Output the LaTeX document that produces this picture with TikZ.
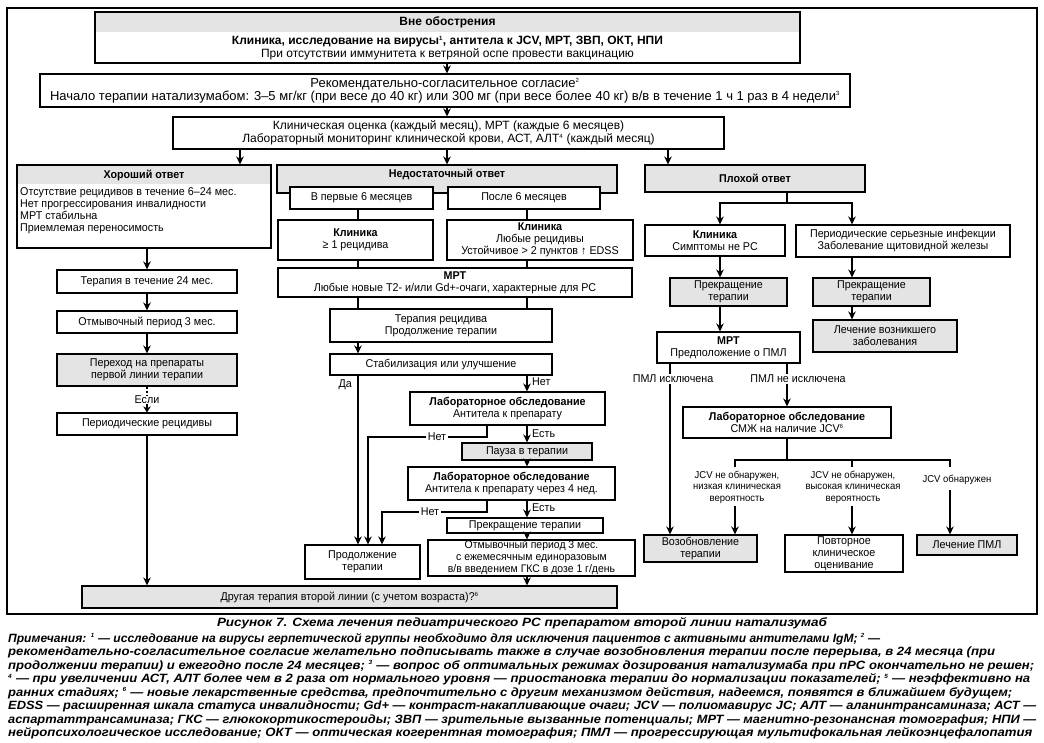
\documentclass[tikz,border=0pt]{standalone}
\usepackage{fontspec}
\usepackage{graphicx}
\setmainfont{Liberation Sans}
\newfontfamily\diagfont[FakeStretch=0.95]{Liberation Sans}
\usetikzlibrary{arrows.meta}
\definecolor{boxgray}{HTML}{E4E4E4}
\newcommand{\fs}{\diagfont\fontsize{11.3}{12}\selectfont}
\newcommand{\fst}{\fontsize{12}{13}\selectfont}
\newcommand{\fsw}{\fontsize{13}{13}\selectfont}
\newcommand{\fss}{\diagfont\fontsize{10}{11.5}\selectfont}
\newcommand{\notefont}{\fontsize{12}{13}\selectfont\bfseries\itshape}
\newcommand{\sps}[1]{\textsuperscript{\fontsize{6}{6}\selectfont #1}}
\newcommand{\fitw}[2]{\resizebox{#1pt}{\height}{#2}}
\newcommand{\bx}[7][box]{%
  \pgfmathsetmacro{\bxcx}{(#3+#5)/2}\pgfmathsetmacro{\bxcy}{(#4+#6)/2}%
  \pgfmathsetmacro{\bxw}{#5-#3}\pgfmathsetmacro{\bxh}{#6-#4}%
  \node[#1, minimum width=\bxw pt, minimum height=\bxh pt] (#2) at (\bxcx,\bxcy) {#7};}
\tikzset{
  box/.style={draw, line width=1.1pt, inner sep=0pt, align=center, font=\fs},
  gbox/.style={box, fill=boxgray},
  wbox/.style={box, fill=white},
  txt/.style={inner sep=0pt, align=center, font=\fs},
  conn/.style={line width=2.2pt},
  arr/.style={line width=2.2pt, -{Stealth[length=8pt,width=7.5pt]}},
  arrs/.style={line width=2.2pt, -{Stealth[length=6pt,width=7.5pt]}},
  lbl/.style={inner sep=1.5pt, fill=white, font=\fs},
  note/.style={inner sep=0pt, anchor=west, font=\notefont},
}
\begin{document}
\begin{tikzpicture}[x=1pt,y=-1pt]
\useasboundingbox (0,0) rectangle (1044,743);
\draw[line width=1.3pt] (7,8) rectangle (1037,614);
% guides
\coordinate (xM) at (447,0);
\coordinate (xG) at (240,0);
\coordinate (xP) at (668,0);
\coordinate (xL) at (147,0);
\coordinate (xA) at (358,0);
\coordinate (xB) at (527,0);
\coordinate (xN) at (487,0);
\coordinate (xR0) at (787,0);
\coordinate (xR1) at (720,0);
\coordinate (xR2) at (852,0);
\coordinate (xE) at (670,0);
% top
\fill[boxgray] (95,12) rectangle (800,32);
\bx{vne}{95}{12}{800}{63}{}
\node[txt, font=\fst] (vneH) at (447.5,22) {\bfseries Вне обострения};
\node[txt, font=\fst] (vneB) at (447.5,48) {\textbf{Клиника, исследование на вирусы\sps{1}, антитела к JCV, МРТ, ЗВП, ОКТ, НПИ}\\При отсутствии иммунитета к ветряной оспе провести вакцинацию};
\bx[box, font=\fsw]{rek}{40}{74}{850}{107}{Рекомендательно-согласительное согласие\sps{2}\\Начало терапии натализумабом: 3–5 мг/кг (при весе до 40 кг) или 300 мг (при весе более 40 кг) в/в в течение 1 ч 1 раз в 4 недели\sps{3}}
\bx[box, font=\fst]{klin}{173}{117}{724}{149}{Клиническая оценка (каждый месяц), МРТ (каждые 6 месяцев)\\Лабораторный мониторинг клинической крови, АСТ, АЛТ\sps{4} (каждый месяц)}
\draw[arr] (xM |- vne.south) -- (xM |- rek.north);
\draw[arr] (xM |- rek.south) -- (xM |- klin.north);
% left column
\fill[boxgray] (17,165) rectangle (271,184);
\bx{good}{17}{165}{271}{248}{}
\node[txt] (goodH) at (144,175) {\bfseries Хороший ответ};
\node[txt, align=left, anchor=west] (goodB) at (20,211) {Отсутствие рецидивов в течение 6–24 мес.\\Нет прогрессирования инвалидности\\МРТ стабильна\\Приемлемая переносимость};
\bx{ter24}{57}{270}{237}{293}{Терапия в течение 24 мес.}
\bx{otm3}{57}{311}{237}{333}{Отмывочный период 3 мес.}
\bx[gbox]{perehod}{57}{354}{237}{386}{Переход на препараты\\первой линии терапии}
\node[txt] (esli) at (147,400) {Если};
\bx{period}{57}{413}{237}{435}{Периодические рецидивы}
\bx[gbox]{drug}{82}{586}{617}{608}{Другая терапия второй линии (с учетом возраста)?\sps{6}}
\draw[arr] (xG |- klin.south) -- (xG |- good.north);
\draw[arr] (xL |- good.south) -- (xL |- ter24.north);
\draw[arr] (ter24.south) -- (otm3.north);
\draw[arr] (otm3.south) -- (perehod.north);
\draw[line width=2.2pt, dash pattern=on 2pt off 2pt] (perehod.south) -- (esli.north);
\draw[arrs] (esli.south) -- (period.north);
\draw[arr] (period.south) -- (period.south |- drug.north);
% middle column
\bx[gbox]{nedo}{277}{165}{617}{193}{}
\node[txt] (nedoH) at (447,174) {\bfseries Недостаточный ответ};
\draw[arr] (xM |- klin.south) -- (xM |- nedo.north);
\bx[wbox]{first6}{290}{187}{433}{209}{В первые 6 месяцев}
\bx[wbox]{after6}{448}{187}{600}{209}{После 6 месяцев}
\bx{klin1}{278}{220}{433}{260}{\textbf{Клиника}\\≥ 1 рецидива}
\bx{klin2}{447}{220}{633}{260}{\textbf{Клиника}\\Любые рецидивы\\Устойчивое > 2 пунктов ↑ EDSS}
\bx{mrt1}{278}{268}{632}{297}{\textbf{МРТ}\\Любые новые T2- и/или Gd+-очаги, характерные для РС}
\bx{terrec}{330}{309}{552}{342}{Терапия рецидива\\Продолжение терапии}
\bx{stab}{330}{354}{552}{375}{Стабилизация или улучшение}
\bx{lab1}{410}{392}{605}{425}{\textbf{Лабораторное обследование}\\Антитела к препарату}
\bx[gbox]{pauza}{462}{443}{592}{460}{Пауза в терапии}
\bx{lab2}{408}{467}{615}{500}{\textbf{Лабораторное обследование}\\Антитела к препарату через 4 нед.}
\bx{prekr}{447}{518}{603}{533}{Прекращение терапии}
\bx{otmgks}{428}{540}{635}{576}{\fontsize{11}{11}\selectfont Отмывочный период 3 мес.\\\fontsize{11}{11}\selectfont с ежемесячным единоразовым\\\fontsize{11}{11}\selectfont в/в введением ГКС в дозе 1 г/день}
\bx{prod}{305}{545}{420}{579}{Продолжение\\терапии}
\draw[conn] (xA |- first6.south) -- (xA |- klin1.north);
\draw[conn] (xA |- klin1.south) -- (xA |- mrt1.north);
\draw[conn] (xA |- mrt1.south) -- (xA |- terrec.north);
\draw[conn] (xB |- after6.south) -- (xB |- klin2.north);
\draw[conn] (xB |- klin2.south) -- (xB |- mrt1.north);
\draw[conn] (xB |- mrt1.south) -- (xB |- terrec.north);
\draw[arr] (xA |- terrec.south) -- (xA |- stab.north);
\draw[arr] (xA |- stab.south) -- (xA |- prod.north);
\node[txt, anchor=east] (da) at (352,385) {Да};
\draw[arr] (xB |- stab.south) -- (xB |- lab1.north);
\node[txt, anchor=west] (net1) at (532,382) {Нет};
\draw[arr] (xB |- lab1.south) -- (xB |- pauza.north);
\node[txt, anchor=west] (est1) at (532,434) {Есть};
\draw[arr] (xB |- pauza.south) -- (xB |- lab2.north);
\draw[arr] (xB |- lab2.south) -- (xB |- prekr.north);
\node[txt, anchor=west] (est2) at (532,508) {Есть};
\draw[arr] (xB |- prekr.south) -- (xB |- otmgks.north);
\draw[arr] (xB |- otmgks.south) -- (xB |- drug.north);
\coordinate (n1c) at (368,437);
\coordinate (n2c) at (382,512);
\draw[arr] (xN |- lab1.south) -- (xN |- n1c) -- (n1c) -- (n1c |- prod.north);
\draw[arr] (xN |- lab2.south) -- (xN |- n2c) -- (n2c) -- (n2c |- prod.north);
\node[lbl] (net2) at (437,437) {Нет};
\node[lbl] (net3) at (430,512) {Нет};
% right column
\bx[gbox]{bad}{645}{165}{865}{192}{\textbf{Плохой ответ}}
\draw[arr] (xP |- klin.south) -- (xP |- bad.north);
\coordinate (jb) at (787,203);
\bx{klin3}{645}{225}{785}{256}{\textbf{Клиника}\\Симптомы не РС}
\bx{inf}{796}{225}{1010}{257}{Периодические серьезные инфекции\\Заболевание щитовидной железы}
\draw[conn] (xR0 |- bad.south) -- (jb);
\draw[arr] (jb) -| (xR1 |- klin3.north);
\draw[arr] (jb) -| (xR2 |- inf.north);
\bx[gbox]{pr1}{670}{278}{787}{306}{Прекращение\\терапии}
\bx[gbox]{pr2}{813}{278}{930}{306}{Прекращение\\терапии}
\draw[arr] (xR1 |- klin3.south) -- (xR1 |- pr1.north);
\draw[arr] (xR2 |- inf.south) -- (xR2 |- pr2.north);
\bx{mrt2}{657}{332}{800}{363}{\textbf{МРТ}\\Предположение о ПМЛ}
\bx[gbox]{lech}{813}{320}{957}{352}{Лечение возникшего\\заболевания}
\draw[arr] (xR1 |- pr1.south) -- (xR1 |- mrt2.north);
\draw[arr] (xR2 |- pr2.south) -- (xR2 |- lech.north);
\bx{lab3}{683}{407}{891}{438}{\textbf{Лабораторное обследование}\\СМЖ на наличие JCV\sps{6}}
\bx[gbox]{vozob}{644}{535}{757}{562}{Возобновление\\терапии}
\bx{povt}{785}{535}{903}{572}{Повторное\\клиническое\\оценивание}
\bx[gbox]{lechpml}{917}{535}{1017}{555}{Лечение ПМЛ}
\draw[arr] (xE |- mrt2.south) -- (xE |- vozob.north);
\node[lbl] (pmlex) at (673,379) {ПМЛ исключена};
\draw[arr] (xR0 |- mrt2.south) -- (xR0 |- lab3.north);
\node[lbl] (pmlnex) at (798,379) {ПМЛ не исключена};
\coordinate (jt) at (787,460);
\coordinate (t1) at (735,467);
\coordinate (t2) at (852,467);
\coordinate (t3) at (950,467);
\draw[conn] (xR0 |- lab3.south) -- (jt);
\draw[conn] (t1) -- (t1 |- jt) -- (t3 |- jt) -- (t3);
\draw[conn] (t2 |- jt) -- (t2);
\node[txt, font=\fss] (j1) at (737,487) {JCV не обнаружен,\\низкая клиническая\\вероятность};
\node[txt, font=\fss] (j2) at (853,487) {JCV не обнаружен,\\высокая клиническая\\вероятность};
\node[txt, font=\fss] (j3) at (957,480) {JCV обнаружен};
\draw[arr] (t1 |- j1.south) ++(0,3) -- (t1 |- vozob.north);
\draw[arr] (t2 |- j2.south) ++(0,3) -- (t2 |- povt.north);
\draw[arr] (t3 |- j3.south) ++(0,5) -- (t3 |- lechpml.north);
% caption and notes
\node[inner sep=0pt, font=\notefont] (cap) at (522,623) {\fitw{610}{Рисунок 7. Схема лечения педиатрического РС препаратом второй линии натализумаб}};
\node[note] (l1) at (8,639) {\fitw{872}{Примечания: \sps{1} — исследование на вирусы герпетической группы необходимо для исключения пациентов с активными антителами IgM; \sps{2} —}};
\node[note] (l2) at (8,652.5) {\fitw{987}{рекомендательно-согласительное согласие желательно подписывать также в случае возобновления терапии после перерыва, в 24 месяца (при}};
\node[note] (l3) at (8,666) {\fitw{1026}{продолжении терапии) и ежегодно после 24 месяцев; \sps{3} — вопрос об оптимальных режимах дозирования натализумаба при пРС окончательно не решен;}};
\node[note] (l4) at (8,679.5) {\fitw{1022}{\sps{4} — при увеличении АСТ, АЛТ более чем в 2 раза от нормального уровня — приостановка терапии до нормализации показателей; \sps{5} — неэффективно на}};
\node[note] (l5) at (8,693) {\fitw{1004}{ранних стадиях; \sps{6} — новые лекарственные средства, предпочтительно с другим механизмом действия, надеемся, появятся в ближайшем будущем;}};
\node[note] (l6) at (8,706.5) {\fitw{1028}{EDSS — расширенная шкала статуса инвалидности; Gd+ — контраст-накапливающие очаги; JCV — полиомавирус JC; АЛТ — аланинтрансаминаза; АСТ —}};
\node[note] (l7) at (8,720) {\fitw{1028}{аспартаттрансаминаза; ГКС — глюкокортикостероиды; ЗВП — зрительные вызванные потенциалы; МРТ — магнитно-резонансная томография; НПИ —}};
\node[note] (l8) at (8,733.5) {\fitw{1024}{нейропсихологическое исследование; ОКТ — оптическая когерентная томография; ПМЛ — прогрессирующая мультифокальная лейкоэнцефалопатия}};
\end{tikzpicture}
\end{document}
